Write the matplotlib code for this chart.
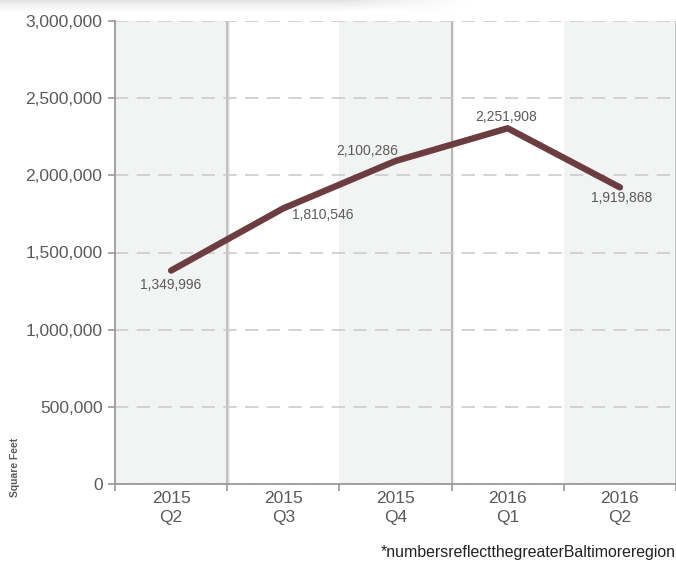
import matplotlib
matplotlib.use("Agg")
import matplotlib.pyplot as plt
import numpy as np

# ── Data ──────────────────────────────────────────────────────────────────────
years = ["2015", "2015", "2015", "2016", "2016"]
quarters = ["Q2", "Q3", "Q4", "Q1", "Q2"]
# values as drawn by the line
line_values = [1383000, 1786000, 2093000, 2305000, 1922000]
# values printed next to each point
point_labels = ["1,349,996", "1,810,546", "2,100,286", "2,251,908", "1,919,868"]
y_ticks = [0, 500000, 1000000, 1500000, 2000000, 2500000, 3000000]
shaded = [0, 2, 4]

LINE_COLOR = "#6b3c40"
TEXT_COLOR = "#5a5a5a"
BAND_COLOR = "#f2f3f3"

plt.rcParams["font.family"] = ["Liberation Sans", "DejaVu Sans"]

W, H = 676, 566
fig = plt.figure(figsize=(W / 100, H / 100), dpi=100)
ax = fig.add_axes([115 / W, 1 - 484 / H, (W - 115) / W, (484 - 21) / H])

n = len(quarters)
x = np.arange(n)
ax.set_xlim(-0.5, -0.5 + (W - 115) / 113)
ax.set_ylim(0, 3000000)

# alternating bands with a soft shadow on their right edge
for i in shaded:
    ax.axvspan(i - 0.5, i + 0.5, color=BAND_COLOR, zorder=0, lw=0)
    for k, a in enumerate([0.5, 0.22, 0.1, 0.04]):
        ax.axvline(i + 0.5 + k * 0.008, color="#8a8a8a", alpha=a, lw=1.3, zorder=0.5)

ax.yaxis.grid(True, color="#cccccc", linestyle=(0, (8, 5)), lw=1.2, zorder=1)
ax.set_axisbelow(True)

ax.plot(x, line_values, color=LINE_COLOR, lw=4.6, solid_capstyle="round",
        solid_joinstyle="round", zorder=3)

offsets = [(0, -14), (39, -7), (-28, 10), (-2, 11), (2, -11)]
for xi, yi, lab, off in zip(x, line_values, point_labels, offsets):
    ax.annotate(lab, (xi, yi), xytext=off, textcoords="offset pixels",
                ha="center", va="center", fontsize=10, color=TEXT_COLOR, zorder=4)

# axes styling
for side in ["top", "right"]:
    ax.spines[side].set_visible(False)
for side in ["left", "bottom"]:
    ax.spines[side].set_color("#9a9a9a")
    ax.spines[side].set_linewidth(1.3)

ax.set_yticks(y_ticks)
ax.set_yticklabels([f"{v:,}" for v in y_ticks])
ax.tick_params(axis="y", length=5, color="#9a9a9a", width=1.2, labelsize=12.5,
               labelcolor=TEXT_COLOR, pad=4)

ax.set_xticks(x)
ax.set_xticklabels([f"{y}\n{q}" for y, q in zip(years, quarters)],
                   fontsize=12.5, color=TEXT_COLOR, linespacing=1.35)
ax.tick_params(axis="x", length=0, pad=5)
ax.set_xticks(np.arange(n + 1) - 0.5, minor=True)
ax.tick_params(axis="x", which="minor", length=5, color="#9a9a9a", width=1.2)

fig.text(15 / W, 1 - 467 / H, "Square Feet", rotation=90, ha="center", va="center",
         fontsize=7.4, fontweight="bold", color=TEXT_COLOR)

fig.text(1.0, 1 - 553 / H, "*numbersreflectthegreaterBaltimoreregion",
         ha="right", va="center", fontsize=11.4,
         family=["Liberation Sans Narrow", "Liberation Sans", "DejaVu Sans"],
         color="#222222")

# faint shadow along the top edge
shadow = np.linspace(0.2, 0.0, 12).reshape(-1, 1) * np.ones((1, 470))
fade = np.concatenate([np.ones(340), np.linspace(1, 0, 130)])
sax = fig.add_axes([0, 1 - 12 / H, 470 / W, 12 / H])
sax.imshow(shadow * fade, cmap="Greys", vmin=0, vmax=1, aspect="auto",
           interpolation="bilinear")
sax.axis("off")

fig.savefig("out.png", dpi=100)
